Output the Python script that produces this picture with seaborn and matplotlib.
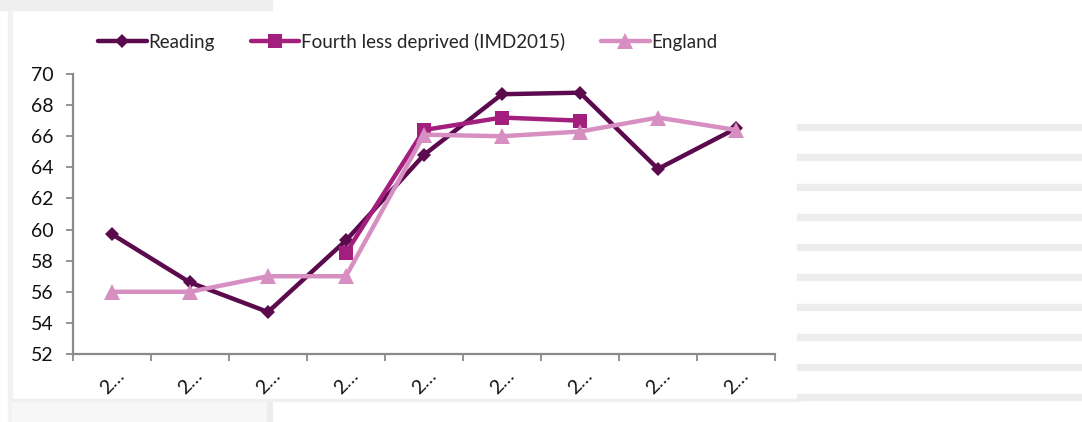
import numpy as np
import pandas as pd
import matplotlib
matplotlib.use("Agg")
import matplotlib.pyplot as plt
from matplotlib.patches import Rectangle
from matplotlib.lines import Line2D
import seaborn as sns

# ---- data ----
categories = ["2…"] * 9
reading = [59.7, 56.6, 54.7, 59.3, 64.8, 68.7, 68.8, 63.9, 66.5]
fourth = [np.nan, np.nan, np.nan, 58.5, 66.4, 67.2, 67.0, np.nan, np.nan]
england = [56.0, 56.0, 57.0, 57.0, 66.1, 66.0, 66.3, 67.2, 66.4]
series_names = ["Reading", "Fourth less deprived (IMD2015)", "England"]
y_ticks = [52, 54, 56, 58, 60, 62, 64, 66, 68, 70]

colors = {"Reading": "#5B0A4E", "Fourth less deprived (IMD2015)": "#A31F7D",
          "England": "#D78FC2"}
markers = {"Reading": "D", "Fourth less deprived (IMD2015)": "s", "England": "^"}
msizes = {"Reading": 7, "Fourth less deprived (IMD2015)": 10, "England": 11}

rows = []
for name, vals in zip(series_names, [reading, fourth, england]):
    for i, v in enumerate(vals):
        rows.append({"idx": i, "value": v, "series": name})
df = pd.DataFrame(rows)

sns.set_theme(style="white")
plt.rcParams["font.family"] = ["Lato", "DejaVu Sans"]

W, H = 1082, 422
fig = plt.figure(figsize=(W / 100, H / 100), dpi=100)
fig.patch.set_facecolor("white")

# background frame artifacts
def px_rect(x0, y0, x1, y1, color):
    fig.patches.append(Rectangle((x0 / W, 1 - y1 / H), (x1 - x0) / W, (y1 - y0) / H,
                                 transform=fig.transFigure, color=color, zorder=0))

px_rect(0, 0, 272, 10, "#EFEFEF")
px_rect(8, 10, 12, 422, "#F2F2F2")
px_rect(12, 400, 267, 422, "#F7F7F7")
px_rect(267, 400, 272, 422, "#EDEDED")
px_rect(12, 399, 800, 401, "#F0F0F0")
for k in range(10):
    yc = 127 + 30 * k
    px_rect(797, yc - 3, 1082, yc + 3, "#EDEDED")

ax = fig.add_axes([73 / W, 1 - 354 / H, (775 - 73) / W, (354 - 74) / H])
ax.set_facecolor("none")

for name in series_names:
    sub = df[df["series"] == name].dropna()
    sns.lineplot(data=sub, x="idx", y="value", ax=ax, color=colors[name],
                 marker=markers[name], markersize=msizes[name], linewidth=3.2,
                 markeredgewidth=0, label=name, legend=False, zorder=3)

ax.set_xlim(-0.5, 8.5)
ax.set_ylim(52, 70)
ax.set_yticks(y_ticks)
ax.set_yticklabels([str(t) for t in y_ticks], fontsize=14, color="#111111")
ax.set_xticks(np.arange(-0.5, 9.0, 1.0))
ax.set_xticklabels([])
ax.set_xticks(np.arange(9), minor=True)
ax.set_xticklabels(categories, minor=True, rotation=45, fontsize=14,
                   color="#111111", ha="center", va="top")
ax.tick_params(axis="x", which="minor", length=0, pad=9)
ax.tick_params(axis="both", which="major", direction="out", length=5, width=1.3,
               color="#8A8A8A", left=True, bottom=True)
ax.tick_params(axis="y", pad=9)
ax.set_xlabel("")
ax.set_ylabel("")
for s in ["top", "right"]:
    ax.spines[s].set_visible(False)
for s in ["left", "bottom"]:
    ax.spines[s].set_color("#8A8A8A")
    ax.spines[s].set_linewidth(1.6)
ax.grid(False)

handles = [Line2D([], [], color=colors[n], marker=markers[n], markersize=msizes[n],
                  linewidth=3.2, markeredgewidth=0) for n in series_names]
fig.legend(handles, series_names, loc="center", ncol=3, frameon=False,
           bbox_to_anchor=(408 / W, 1 - 42 / H), fontsize=13.5,
           handlelength=2.6, handletextpad=0.1, columnspacing=1.9)

fig.savefig("out.png", dpi=100, facecolor="white")
